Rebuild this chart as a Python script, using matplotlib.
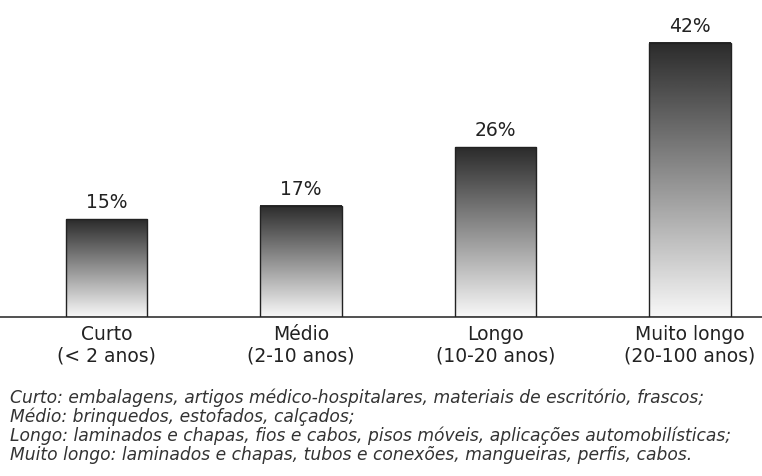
import matplotlib.pyplot as plt
import numpy as np

# data
categorias = ["Curto\n(< 2 anos)", "Médio\n(2-10 anos)", "Longo\n(10-20 anos)", "Muito longo\n(20-100 anos)"]
valores = [15, 17, 26, 42]
rotulos = ["15%", "17%", "26%", "42%"]
notas = [
    "Curto: embalagens, artigos médico-hospitalares, materiais de escritório, frascos;",
    "Médio: brinquedos, estofados, calçados;",
    "Longo: laminados e chapas, fios e cabos, pisos móveis, aplicações automobilísticas;",
    "Muito longo: laminados e chapas, tubos e conexões, mangueiras, perfis, cabos.",
]

plt.rcParams['font.family'] = ['DejaVu Sans']

fig = plt.figure(figsize=(7.62, 4.77), dpi=100)
ax = fig.add_axes([0, 159 / 477, 1, 288 / 477])

largura = 0.42
x = np.arange(len(valores))
# vertical gradient: dark at top, light at bottom
grad = np.linspace(0.17, 0.97, 256).reshape(-1, 1)

for xi, v in zip(x, valores):
    ax.imshow(grad, cmap='gray', vmin=0, vmax=1, aspect='auto',
              extent=(xi - largura / 2, xi + largura / 2, 0, v),
              origin='upper', zorder=2, interpolation='bicubic')
    ax.bar(xi, v, width=largura, facecolor='none', edgecolor='#222222',
           linewidth=1.0, zorder=3)

for xi, v, r in zip(x, valores, rotulos):
    ax.text(xi, v + 1.2, r, ha='center', va='bottom', fontsize=13.5, color='#222222')

ax.set_xlim(-106.5 / 194.5, (762 - 106.5) / 194.5)
ax.set_ylim(0, 288 / 6.53)

ax.set_xticks(x)
ax.set_xticklabels(categorias, fontsize=13.5, color='#222222', linespacing=1.15)
ax.tick_params(axis='x', length=0, pad=5)
ax.set_yticks([])
for s in ['top', 'right', 'left']:
    ax.spines[s].set_visible(False)
ax.spines['bottom'].set_color('#333333')
ax.spines['bottom'].set_linewidth(1.2)

for i, n in enumerate(notas):
    fig.text(10 / 762, 1 - (398 + i * 19) / 477, n, ha='left', va='center',
             fontsize=12.3, style='italic', color='#333333')

fig.savefig('out.png', dpi=100)
